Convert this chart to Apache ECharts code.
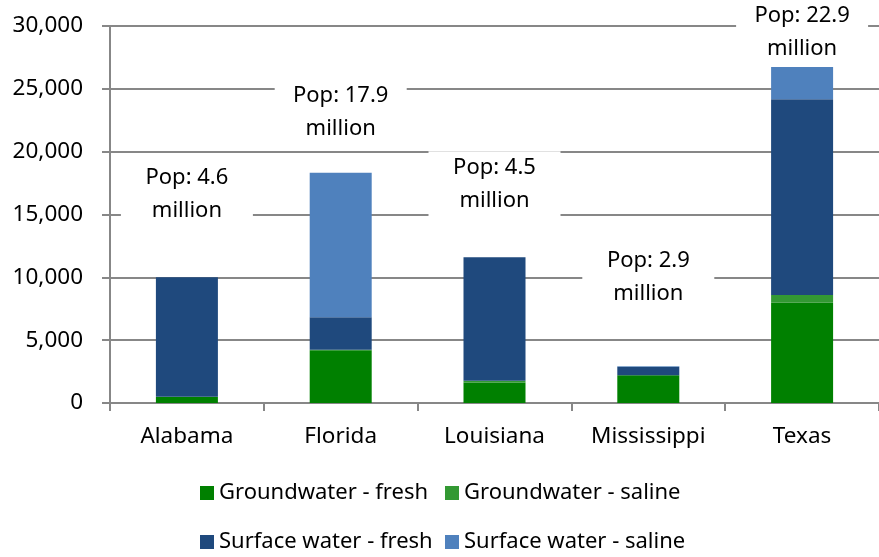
<!DOCTYPE html>
<html>
<head>
<meta charset="utf-8">
<script src="https://cdn.jsdelivr.net/npm/echarts@6/dist/echarts.min.js"></script>
<style>html,body{margin:0;padding:0;background:#fff}#c{width:879px;height:557px}</style>
</head>
<body>
<div id="c"></div>
<script>
const states = ['Alabama', 'Florida', 'Louisiana', 'Mississippi', 'Texas'];
const groundFresh = [480, 4200, 1620, 2200, 7980];
const groundSaline = [20, 30, 150, 10, 620];
const surfaceFresh = [9500, 2600, 9830, 680, 15570];
const surfaceSaline = [0, 11500, 0, 30, 2570];
const popLabels = ['Pop: 4.6\nmillion', 'Pop: 17.9\nmillion', 'Pop: 4.5\nmillion', 'Pop: 2.9\nmillion', 'Pop: 22.9\nmillion'];
const popLabelAnchor = [16600, 23100, 17400, 10000, 29500];
const yTicks = { min: 0, max: 30000, interval: 5000 };
const seriesNames = ['Groundwater - fresh', 'Groundwater - saline', 'Surface water - fresh', 'Surface water - saline'];
const colors = ['#008000', '#339933', '#1F497D', '#4F81BD'];

const FONT = '"Noto Sans", sans-serif';
const chart = echarts.init(document.getElementById('c'), null, { renderer: 'canvas' });

function bar(name, data, color) {
  return {
    name, type: 'bar', stack: 'total', data, barWidth: 62,
    itemStyle: { color }, emphasis: { disabled: true }
  };
}

function legendAt(name, left, top) {
  return {
    data: [name], left, top, padding: 0, itemWidth: 14, itemHeight: 14, itemGap: 0,
    icon: 'rect', selectedMode: false,
    textStyle: { fontFamily: FONT, fontSize: 22, color: '#000' }
  };
}

chart.setOption({
  animation: false,
  color: colors,
  grid: { left: 110, right: -9, top: 26, bottom: 154, containLabel: false },
  legend: [
    legendAt(seriesNames[0], 200, 482),
    legendAt(seriesNames[1], 445, 482),
    legendAt(seriesNames[2], 200, 531),
    legendAt(seriesNames[3], 445, 531)
  ],
  xAxis: {
    type: 'category', data: states,
    axisLine: { lineStyle: { color: '#878787', width: 2 } },
    axisTick: { show: true, length: 8, lineStyle: { color: '#878787', width: 2 } },
    axisLabel: { color: '#000', fontFamily: FONT, fontSize: 22.5, margin: 22 }
  },
  yAxis: {
    type: 'value', min: yTicks.min, max: yTicks.max, interval: yTicks.interval,
    axisLine: { show: true, lineStyle: { color: '#878787', width: 2 } },
    axisTick: { show: true, length: 8, lineStyle: { color: '#878787', width: 2 } },
    splitLine: { lineStyle: { color: '#878787', width: 2 } },
    axisLabel: {
      color: '#000', fontFamily: FONT, fontSize: 22.5, margin: 27,
      formatter: v => v.toLocaleString('en-US')
    }
  },
  series: [
    bar(seriesNames[0], groundFresh, colors[0]),
    bar(seriesNames[1], groundSaline, colors[1]),
    bar(seriesNames[2], surfaceFresh, colors[2]),
    bar(seriesNames[3], surfaceSaline, colors[3]),
    {
      name: 'pop', type: 'scatter', symbolSize: 0,
      itemStyle: { color: '#000', opacity: 1 },
      data: popLabelAnchor,
      z: 5,
      label: {
        show: true, position: 'inside',
        formatter: p => popLabels[p.dataIndex],
        fontFamily: FONT, fontSize: 22, color: '#000', opacity: 1,
        textBorderWidth: 0, textBorderColor: 'transparent',
        lineHeight: 33, align: 'center',
        backgroundColor: '#fff', width: 132, padding: 0
      },
      emphasis: { disabled: true }
    }
  ]
});
</script>
</body>
</html>
